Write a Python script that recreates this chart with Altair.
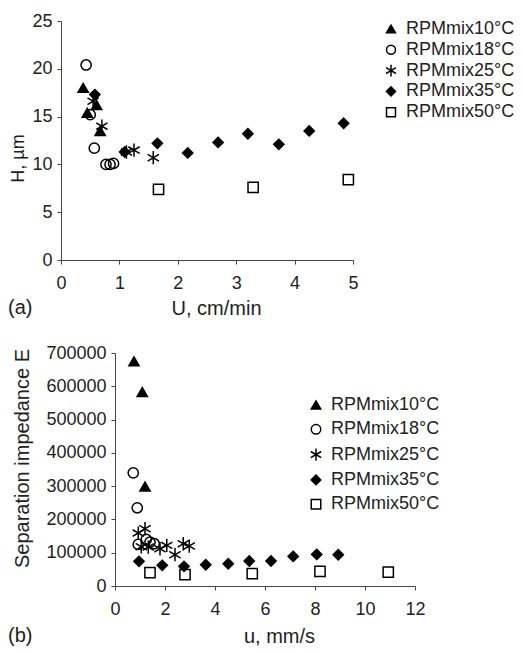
import altair as alt
import pandas as pd

series = ["RPMmix10°C", "RPMmix18°C", "RPMmix25°C", "RPMmix35°C", "RPMmix50°C"]

# ---- panel (a): H (µm) vs U (cm/min)
a10_x = [0.38, 0.45, 0.61, 0.67]
a10_y = [18.0, 15.4, 16.2, 13.5]
a18_x = [0.43, 0.50, 0.57, 0.77, 0.84, 0.90]
a18_y = [20.4, 15.2, 11.7, 10.0, 10.0, 10.1]
a25_x = [0.55, 0.70, 1.12, 1.25, 1.58]
a25_y = [16.6, 14.0, 11.3, 11.5, 10.7]
a35_x = [0.58, 1.09, 1.65, 2.17, 2.69, 3.20, 3.73, 4.25, 4.84]
a35_y = [17.3, 11.3, 12.2, 11.2, 12.3, 13.2, 12.1, 13.5, 14.3]
a50_x = [1.67, 3.29, 4.92]
a50_y = [7.4, 7.6, 8.4]

# ---- panel (b): separation impedance E vs u (mm/s)
b10_x = [0.76, 1.09, 1.20]
b10_y = [675000, 583000, 299000]
b18_x = [0.73, 0.89, 0.93, 1.25, 1.40, 1.57]
b18_y = [340000, 235000, 125000, 140000, 132000, 127000]
b25_x = [0.93, 1.05, 1.20, 1.33, 1.80, 2.07, 2.40, 2.73, 2.97]
b25_y = [159000, 118000, 172000, 117000, 112000, 122000, 94000, 127000, 120000]
b35_x = [0.96, 1.89, 2.76, 3.63, 4.53, 5.37, 6.24, 7.13, 8.07, 8.93]
b35_y = [74000, 62000, 59000, 64000, 67000, 75000, 75000, 89000, 95000, 94000]
b50_x = [1.40, 2.80, 5.49, 8.20, 10.93]
b50_y = [40000, 34000, 37000, 44000, 42000]

a_ticks_x = [0, 1, 2, 3, 4, 5]
a_ticks_y = [0, 5, 10, 15, 20, 25]
b_ticks_x = [0, 2, 4, 6, 8, 10, 12]
b_ticks_y = [0, 100000, 200000, 300000, 400000, 500000, 600000, 700000]


def frame(pairs):
    rows = []
    for name, xs, ys in pairs:
        for x, y in zip(xs, ys):
            rows.append({"series": name, "x": x, "y": y})
    return pd.DataFrame(rows)


df_a = frame([(series[0], a10_x, a10_y), (series[1], a18_x, a18_y),
              (series[2], a25_x, a25_y), (series[3], a35_x, a35_y),
              (series[4], a50_x, a50_y)])
df_b = frame([(series[0], b10_x, b10_y), (series[1], b18_x, b18_y),
              (series[2], b25_x, b25_y), (series[3], b35_x, b35_y),
              (series[4], b50_x, b50_y)])

FONT = "Liberation Sans"
ASTER = "M0,-1.3L0,1.3M-1.1,-0.65L1.1,0.65M-1.1,0.65L1.1,-0.65"
shape_scale = alt.Scale(domain=series,
                        range=["triangle-up", "circle", ASTER, "diamond", "square"])
fill_scale = alt.Scale(domain=series,
                       range=["black", "transparent", "transparent", "black", "transparent"])
stroke_scale = alt.Scale(domain=series, range=["black"] * 5)


def legend(lx, ly, row_pad, sym_size, off):
    return alt.Legend(title=None, orient="none", legendX=lx, legendY=ly,
                      labelFont=FONT, labelFontSize=18, labelColor="#222",
                      symbolSize=sym_size, symbolStrokeWidth=1.5,
                      rowPadding=row_pad, labelOffset=off, padding=0)


def panel(df, w, h, xdom, xrange, ydom, xt, yt, xtitle, ytitle, txx, txy,
          yoff, tyx, tyy, tyfs, leg, tag, tagx, tagy):
    pts = alt.Chart(df).mark_point(strokeWidth=1.5, size=105, opacity=1).encode(
        x=alt.X("x:Q", scale=alt.Scale(domain=xdom, range=xrange, nice=False),
                axis=alt.Axis(values=xt, title=xtitle, titleX=txx, titleY=txy,
                              titleAlign="center", titleBaseline="alphabetic",
                              labelFlush=False)),
        y=alt.Y("y:Q", scale=alt.Scale(domain=ydom, nice=False),
                axis=alt.Axis(values=yt, title=ytitle, titleX=tyx, titleY=tyy,
                              titleAngle=270, titleAlign="center", offset=yoff,
                              titleBaseline="alphabetic", titleFontSize=tyfs,
                              format="d", labelFlush=False)),
        shape=alt.Shape("series:N", scale=shape_scale, legend=leg),
        fill=alt.Fill("series:N", scale=fill_scale, legend=leg),
        stroke=alt.Stroke("series:N", scale=stroke_scale, legend=leg),
    )
    lab = alt.Chart(pd.DataFrame({"t": [tag]})).mark_text(
        align="left", baseline="alphabetic", font=FONT, fontSize=20, color="#222"
    ).encode(x=alt.value(tagx), y=alt.value(tagy), text="t:N")
    return alt.layer(pts, lab).properties(width=w, height=h)


# both panels share a left origin (page x=115); panel (a) is drawn 54px further left
top = panel(df_a, 238, 239, [0, 5], [-54, 238], [0, 25], a_ticks_x, a_ticks_y,
            "U, cm/min", "H, µm", 101, 54, 54, -38, 137, 18,
            legend(267, -1, 2.8, 80, 6), "(a)", -107, 293)
bottom = panel(df_b, 300, 233, [0, 12], [0, 300], [0, 700000], b_ticks_x, b_ticks_y,
               "u, mm/s", "Separation impedance E", 164, 56, 0, -87, 105, 20,
               legend(192, 43, 6.3, 90, 6), "(b)", -107, 289)

chart = alt.vconcat(top, bottom, spacing=26).resolve_scale(
    shape="independent", fill="independent", stroke="independent"
).properties(
    padding={"left": 0, "top": 4, "right": 0, "bottom": 0}
).configure_view(stroke=None).configure_axis(
    grid=False, labelFont=FONT, titleFont=FONT, labelFontSize=18,
    titleFontSize=20, titleFontWeight="normal", labelColor="#222",
    titleColor="#222", domainColor="#444", tickColor="#444", tickSize=4,
    labelPadding=4
).configure_axisX(labelPadding=10).configure_axisY(labelPadding=5)

chart.save("out.html", embed_options={"renderer": "svg", "actions": False})
